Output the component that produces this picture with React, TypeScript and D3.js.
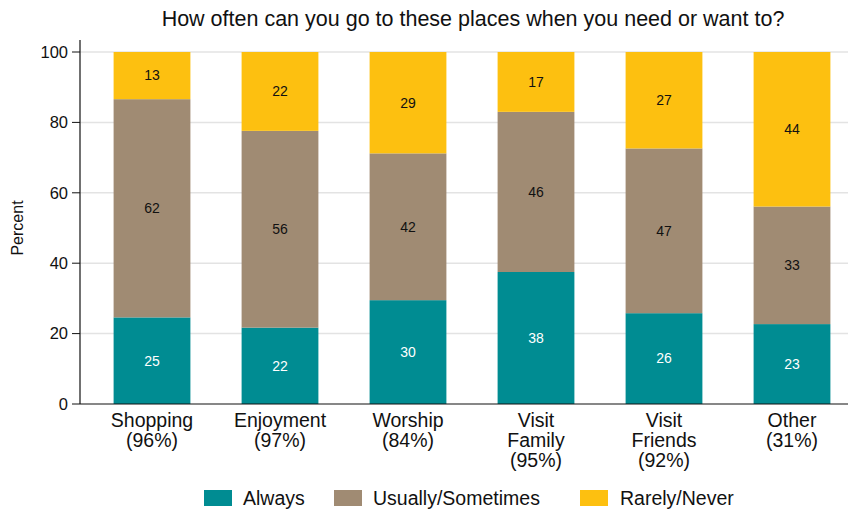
import React from "react";
import * as d3 from "d3";

const categories = ["Shopping", "Enjoyment", "Worship", "Visit Family", "Visit Friends", "Other"];
const categoryLines = [["Shopping", "(96%)"], ["Enjoyment", "(97%)"], ["Worship", "(84%)"], ["Visit", "Family", "(95%)"], ["Visit", "Friends", "(92%)"], ["Other", "(31%)"]];
const always = [24.6, 21.7, 29.5, 37.5, 25.8, 22.7];
const usually = [62.0, 55.9, 41.7, 45.5, 46.8, 33.4];
const rarely = [13.4, 22.4, 28.8, 17.0, 27.4, 43.9];
const seriesNames = ["Always", "Usually/Sometimes", "Rarely/Never"];
const yTicks = [0, 20, 40, 60, 80, 100];

const colors = ["#008c92", "#a08b73", "#fdc010"];
const labelColors = ["#ffffff", "#111111", "#111111"];
const FONT = "'Liberation Sans', Arial, Helvetica, sans-serif";

export default function App() {
  const W = 852, H = 512;
  const left = 80, right = 848, top = 52, bottom = 404;
  const x = d3.scaleBand<string>().domain(categories).range([88, 856]).paddingInner(0.4).paddingOuter(0.2);
  const y = d3.scaleLinear().domain([0, 100]).range([bottom, top]);
  const table = categories.map((c, i) => ({ cat: c, a: always[i], u: usually[i], r: rarely[i] }));
  const stack = d3.stack<any>().keys(["a", "u", "r"])(table);

  const legendItems = [
    { sx: 204, tx: 243 },
    { sx: 334, tx: 373 },
    { sx: 580, tx: 620 },
  ];

  return (
    <svg width={W} height={H} style={{ position: "absolute", left: 0, top: 0, background: "#fff" }} fontFamily={FONT}>
      <text x={473} y={26} fontSize={21.5} textAnchor="middle" fill="#111">How often can you go to these places when you need or want to?</text>
      {yTicks.map((t) => (
        <g key={t}>
          {t > 0 && <line x1={left} x2={right} y1={y(t)} y2={y(t)} stroke="#e3e3e3" strokeWidth={1.5} />}
          <line x1={left - 8} x2={left} y1={y(t)} y2={y(t)} stroke="#111" strokeWidth={1} />
          <text x={left - 12} y={y(t)} dy="0.35em" fontSize={16.5} textAnchor="end" fill="#111">{t}</text>
        </g>
      ))}
      <text transform={`translate(23,${(top + bottom) / 2}) rotate(-90)`} fontSize={16} textAnchor="middle" fill="#111">Percent</text>
      {stack.map((s, si) => (
        <g key={si}>
          {s.map((d, i) => {
            const x0 = x(categories[i])!;
            const y0 = y(d[1]);
            const h = y(d[0]) - y(d[1]);
            return (
              <g key={i}>
                <rect x={x0} y={y0} width={x.bandwidth()} height={h} fill={colors[si]} />
                <text x={x0 + x.bandwidth() / 2} y={y0 + h / 2} dy="0.35em" fontSize={14} textAnchor="middle" fill={labelColors[si]}>
                  {Math.round(d[1] - d[0])}
                </text>
              </g>
            );
          })}
        </g>
      ))}
      <line x1={left} x2={left} y1={top - 12} y2={bottom} stroke="#111" strokeWidth={1.2} />
      <line x1={left} x2={right} y1={bottom} y2={bottom} stroke="#111" strokeWidth={1.2} />
      {categoryLines.map((lines, i) => (
        <text key={i} x={x(categories[i])! + x.bandwidth() / 2} y={427} fontSize={19.5} textAnchor="middle" fill="#111">
          {lines.map((l, j) => (
            <tspan key={j} x={x(categories[i])! + x.bandwidth() / 2} dy={j === 0 ? 0 : 20}>{l}</tspan>
          ))}
        </text>
      ))}
      {seriesNames.map((n, i) => (
        <g key={n}>
          <rect x={legendItems[i].sx} y={490} width={28} height={16} fill={colors[i]} />
          <text x={legendItems[i].tx} y={498} dy="0.35em" fontSize={19.5} fill="#111">{n}</text>
        </g>
      ))}
    </svg>
  );
}
